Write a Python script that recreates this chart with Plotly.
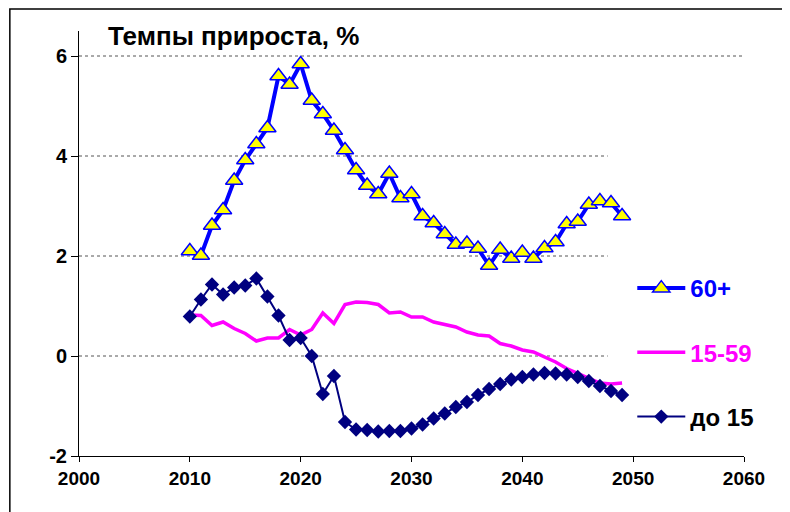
import plotly.graph_objects as go

years = list(range(2010, 2050))

age_60_plus = [2.10, 2.01, 2.61, 2.92, 3.51, 3.92, 4.24, 4.56, 5.60, 5.43,
               5.84, 5.11, 4.84, 4.51, 4.12, 3.72, 3.41, 3.24, 3.65, 3.16,
               3.24, 2.80, 2.66, 2.44, 2.23, 2.25, 2.15, 1.81, 2.13, 1.95,
               2.07, 1.95, 2.16, 2.28, 2.64, 2.69, 3.03, 3.10, 3.06, 2.80]

age_15_59 = [0.82, 0.81, 0.61, 0.68, 0.55, 0.45, 0.30, 0.36, 0.36, 0.53,
             0.42, 0.53, 0.86, 0.65, 1.03, 1.08, 1.07, 1.03, 0.86, 0.88,
             0.78, 0.78, 0.68, 0.63, 0.58, 0.48, 0.42, 0.40, 0.25, 0.20,
             0.12, 0.08, -0.02, -0.12, -0.25, -0.35, -0.45, -0.54, -0.56, -0.54]

age_under_15 = [0.79, 1.13, 1.43, 1.23, 1.37, 1.41, 1.55, 1.19, 0.81, 0.32,
                0.36, 0.00, -0.76, -0.40, -1.32, -1.47, -1.48, -1.51, -1.50, -1.50,
                -1.45, -1.37, -1.25, -1.15, -1.02, -0.92, -0.78, -0.66, -0.56, -0.47,
                -0.42, -0.37, -0.34, -0.35, -0.37, -0.42, -0.50, -0.60, -0.70, -0.78]

series_names = ["60+", "15-59", "до 15"]
y_tickvals = [-2, 0, 2, 4, 6]
y_ticktext = ["-2", "0", "2", "4", "6"]
x_tickvals = [2000, 2010, 2020, 2030, 2040, 2050, 2060]
title_text = "Темпы прироста, %"

FONT = "Liberation Sans, Arial, sans-serif"

fig = go.Figure()

fig.add_trace(go.Scatter(
    x=years, y=age_60_plus, mode="lines+markers",
    name="<span style='color:#0000FF'>" + series_names[0] + "</span>",
    legendgroup="a",
    line=dict(color="#0000FF", width=4),
    marker=dict(symbol="triangle-up", size=15, color="#FFFF00",
                line=dict(color="#0000FF", width=1.5)),
))
fig.add_trace(go.Scatter(
    x=years, y=age_15_59, mode="lines",
    name="<span style='color:#FF00FF'>" + series_names[1] + "</span>",
    legendgroup="b",
    line=dict(color="#FF00FF", width=3.5),
))
fig.add_trace(go.Scatter(
    x=years, y=age_under_15, mode="lines+markers",
    name="<span style='color:#000000'>" + series_names[2] + "</span>",
    legendgroup="c",
    line=dict(color="#000080", width=2),
    marker=dict(symbol="diamond", size=11, color="#000080",
                line=dict(color="#000080", width=0)),
))

# gridlines (dotted), stopping where the legend area begins
for v in y_tickvals[1:]:
    fig.add_shape(type="line", xref="x", yref="y",
                  x0=2000, x1=(2060 if v == 6 else 2047.7), y0=v, y1=v,
                  line=dict(color="#555555", width=1, dash="dot"),
                  layer="below")

# outer chart border
fig.add_shape(type="rect", xref="paper", yref="paper",
              x0=-0.104, x1=1.3, y0=-0.3, y1=1.0515,
              line=dict(color="#000000", width=1.5), fillcolor="rgba(0,0,0,0)")

fig.add_annotation(text="<b>" + title_text + "</b>", xref="paper", yref="paper",
                   x=0.040, y=0.989, xanchor="left", yanchor="middle",
                   showarrow=False, font=dict(family=FONT, size=26, color="#000000"))

fig.update_layout(
    width=790, height=512,
    margin=dict(l=71, r=54, t=23, b=64),
    paper_bgcolor="white", plot_bgcolor="white",
    font=dict(family=FONT, color="#000000"),
    showlegend=True,
    legend=dict(x=0.832, y=0.447, xanchor="left", yanchor="top",
                bgcolor="rgba(0,0,0,0)", borderwidth=0,
                font=dict(family=FONT, size=24, weight="bold"),
                itemwidth=48, tracegroupgap=30, traceorder="grouped"),
    xaxis=dict(range=[2000, 2060], tickvals=x_tickvals, showgrid=False,
               showline=True, linecolor="#000000", linewidth=1,
               ticks="outside", ticklen=5, tickcolor="#000000",
               tickfont=dict(family=FONT, size=19, weight="bold"),
               zeroline=False, fixedrange=True),
    yaxis=dict(range=[-2, 6.5], tickvals=y_tickvals, ticktext=y_ticktext,
               showgrid=False, showline=True, linecolor="#000000", linewidth=1,
               ticks="outside", ticklen=7, tickcolor="#000000",
               tickfont=dict(family=FONT, size=20, weight="bold"),
               zeroline=False, fixedrange=True),
)

fig.write_html("out.html")
